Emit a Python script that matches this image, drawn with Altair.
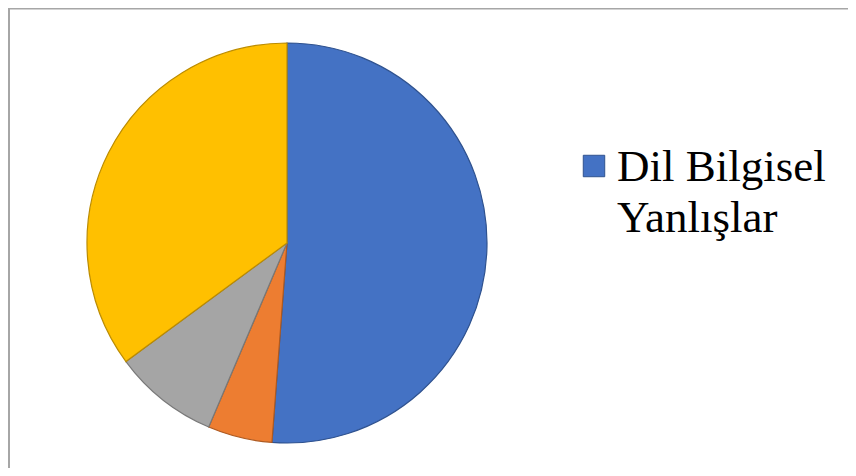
import altair as alt
import pandas as pd

categories = ["Dil Bilgisel Yanlışlar", "Yazım Yanlışları", "Noktalama Yanlışları", "Anlatım Yanlışları"]
values = [51.2, 5.2, 8.5, 35.1]
fills = ["#4472C4", "#ED7D31", "#A5A5A5", "#FFC000"]
strokes = ["#2F528F", "#AE5A21", "#787878", "#BC8C00"]
legend_items = ["Dil Bilgisel Yanlışlar"]
legend_lines = ["Dil Bilgisel", "Yanlışlar"]

df = pd.DataFrame({"kategori": categories, "deger": values, "sira": list(range(len(categories)))})
leg = pd.DataFrame({"kategori": legend_items, "metin": ["\n".join(legend_lines)]})

pie = alt.Chart(df).mark_arc(outerRadius=200, strokeWidth=1.2).encode(
    theta=alt.Theta("deger:Q", stack=True),
    order=alt.Order("sira:Q"),
    color=alt.Color("kategori:N", scale=alt.Scale(domain=categories, range=fills), legend=None),
    stroke=alt.Stroke("kategori:N", scale=alt.Scale(domain=categories, range=strokes), legend=None),
    x=alt.value(279),
    y=alt.value(235),
)

leg_sq = alt.Chart(leg).mark_point(shape="square", filled=True, size=460, strokeWidth=1, opacity=1).encode(
    x=alt.value(586),
    y=alt.value(158),
    fill=alt.Fill("kategori:N", scale=alt.Scale(domain=categories, range=fills), legend=None),
    stroke=alt.Stroke("kategori:N", scale=alt.Scale(domain=categories, range=strokes), legend=None),
)

leg_txt = alt.Chart(leg).mark_text(
    font="Liberation Serif", fontSize=45, align="left", baseline="alphabetic",
    lineBreak="\n", lineHeight=51, color="#000000"
).encode(
    x=alt.value(609),
    y=alt.value(173),
    text="metin:N",
)

border_left = alt.Chart(leg).mark_rule(color="#a6a6a6", strokeWidth=2).encode(
    x=alt.value(1), y=alt.value(0), y2=alt.value(470)
)
border_top = alt.Chart(leg).mark_rule(color="#a6a6a6", strokeWidth=2).encode(
    y=alt.value(0.5), x=alt.value(0), x2=alt.value(850)
)

chart = alt.layer(pie, leg_sq, leg_txt, border_left, border_top).properties(
    width=840, height=460, padding=0, autosize="none"
).configure_view(stroke=None)

chart.save("out.html", embed_options={"renderer": "svg", "actions": False})
